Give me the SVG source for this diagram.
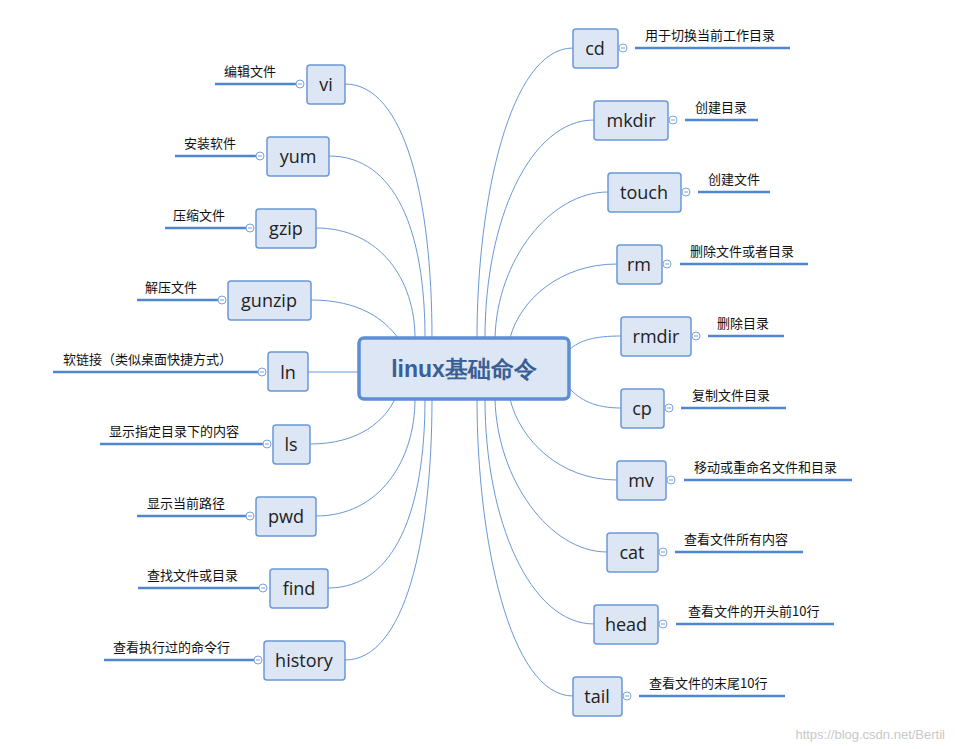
<svg xmlns="http://www.w3.org/2000/svg" width="955" height="749" viewBox="0 0 955 749">
<style>
.n rect{fill:#dce6f4;stroke:#6a98d6;stroke-width:1.5}
.n text{font-family:"Open Sans","Liberation Sans",sans-serif;font-size:18px;fill:#222;text-anchor:middle}
.c path{fill:none;stroke:#6a98d6;stroke-width:1}
.u{stroke:#4f86d0;stroke-width:2.5}
.k{fill:#fff;stroke:#7aa2d8;stroke-width:1}
.m{stroke:#7aa2d8;stroke-width:1}
.n text.l{font-family:"Noto Sans CJK SC","Liberation Sans",sans-serif;font-size:13px;fill:#111;text-anchor:start}
</style>
<rect width="955" height="749" fill="#fff"/>
<g class="c">
<path d="M345,84 C405,84 432,200 432,338"/>
<path d="M329,156 C395,156 425,230 425,338"/>
<path d="M316,228 C380,228 415,280 415,338"/>
<path d="M311,300 C360,300 385,320 398,338"/>
<path d="M308,372 L359,372"/>
<path d="M310,444 C360,444 385,420 395,399"/>
<path d="M316,516 C380,516 415,460 415,399"/>
<path d="M328,588 C395,588 425,510 425,399"/>
<path d="M345,660 C405,660 432,540 432,399"/>
<path d="M573,48 C510,48 477,200 477,338"/>
<path d="M594,120 C530,120 485,220 485,338"/>
<path d="M608,192 C550,192 497,260 495,338"/>
<path d="M617,264 C560,264 520,300 510,338"/>
<path d="M621,336 C595,336 580,340 569,350"/>
<path d="M621,408 C595,408 580,400 569,388"/>
<path d="M617,480 C560,480 520,440 510,399"/>
<path d="M607,552 C550,552 497,480 495,399"/>
<path d="M594,624 C530,624 485,520 485,399"/>
<path d="M573,696 C510,696 477,540 477,399"/>
</g>
<g id="center"><rect x="359" y="338" width="210" height="61" rx="5" fill="#dce6f4" stroke="#5b8fd4" stroke-width="3.5"/><text x="464" y="377" font-family="Liberation Sans,sans-serif" font-size="23" font-weight="bold" fill="#3a5f94" text-anchor="middle">linux基础命令</text></g>
<g id="vi" class="n"><line class="u" x1="215" y1="84" x2="296" y2="84"/><circle class="k" cx="300" cy="84" r="4"/><line class="m" x1="298" y1="84" x2="302" y2="84"/><rect x="307" y="65" width="38" height="39" rx="3"/><text x="326" y="91">vi</text><text class="l" x="224" y="76">编辑文件</text></g>
<g id="yum" class="n"><line class="u" x1="175" y1="156" x2="256" y2="156"/><circle class="k" cx="260" cy="156" r="4"/><line class="m" x1="258" y1="156" x2="262" y2="156"/><rect x="267" y="137" width="62" height="39" rx="3"/><text x="298" y="163">yum</text><text class="l" x="184" y="148">安装软件</text></g>
<g id="gzip" class="n"><line class="u" x1="165" y1="228" x2="246" y2="228"/><circle class="k" cx="250" cy="228" r="4"/><line class="m" x1="248" y1="228" x2="252" y2="228"/><rect x="256" y="209" width="60" height="39" rx="3"/><text x="286" y="235">gzip</text><text class="l" x="173" y="220">压缩文件</text></g>
<g id="gunzip" class="n"><line class="u" x1="137" y1="300" x2="218" y2="300"/><circle class="k" cx="222" cy="300" r="4"/><line class="m" x1="220" y1="300" x2="224" y2="300"/><rect x="228" y="281" width="83" height="39" rx="3"/><text x="269" y="307">gunzip</text><text class="l" x="145" y="292">解压文件</text></g>
<g id="ln" class="n"><line class="u" x1="53" y1="372" x2="258" y2="372"/><circle class="k" cx="262" cy="372" r="4"/><line class="m" x1="260" y1="372" x2="264" y2="372"/><rect x="268" y="352" width="40" height="39" rx="3"/><text x="288" y="379">ln</text><text class="l" x="63" y="364">软链接（类似桌面快捷方式）</text></g>
<g id="ls" class="n"><line class="u" x1="100" y1="444" x2="263" y2="444"/><circle class="k" cx="267" cy="444" r="4"/><line class="m" x1="265" y1="444" x2="269" y2="444"/><rect x="273" y="425" width="37" height="39" rx="3"/><text x="291" y="451">ls</text><text class="l" x="109" y="436">显示指定目录下的内容</text></g>
<g id="pwd" class="n"><line class="u" x1="137" y1="516" x2="246" y2="516"/><circle class="k" cx="250" cy="516" r="4"/><line class="m" x1="248" y1="516" x2="252" y2="516"/><rect x="256" y="497" width="60" height="39" rx="3"/><text x="286" y="523">pwd</text><text class="l" x="147" y="508">显示当前路径</text></g>
<g id="find" class="n"><line class="u" x1="138" y1="588" x2="259" y2="588"/><circle class="k" cx="263" cy="588" r="4"/><line class="m" x1="261" y1="588" x2="265" y2="588"/><rect x="270" y="569" width="58" height="39" rx="3"/><text x="299" y="595">find</text><text class="l" x="147" y="580">查找文件或目录</text></g>
<g id="history" class="n"><line class="u" x1="104" y1="660" x2="254" y2="660"/><circle class="k" cx="258" cy="660" r="4"/><line class="m" x1="256" y1="660" x2="260" y2="660"/><rect x="264" y="641" width="81" height="39" rx="3"/><text x="304" y="667">history</text><text class="l" x="113" y="652">查看执行过的命令行</text></g>
<g id="cd" class="n"><rect x="573" y="29" width="45" height="39" rx="3"/><text x="595" y="55">cd</text><circle class="k" cx="623" cy="48" r="4"/><line class="m" x1="621" y1="48" x2="625" y2="48"/><line class="u" x1="635" y1="48" x2="790" y2="48"/><text class="l" x="645" y="40">用于切换当前工作目录</text></g>
<g id="mkdir" class="n"><rect x="594" y="101" width="74" height="39" rx="3"/><text x="631" y="127">mkdir</text><circle class="k" cx="673" cy="120" r="4"/><line class="m" x1="671" y1="120" x2="675" y2="120"/><line class="u" x1="685" y1="120" x2="758" y2="120"/><text class="l" x="695" y="112">创建目录</text></g>
<g id="touch" class="n"><rect x="608" y="173" width="73" height="39" rx="3"/><text x="644" y="199">touch</text><circle class="k" cx="686" cy="192" r="4"/><line class="m" x1="684" y1="192" x2="688" y2="192"/><line class="u" x1="698" y1="192" x2="770" y2="192"/><text class="l" x="708" y="184">创建文件</text></g>
<g id="rm" class="n"><rect x="617" y="245" width="45" height="39" rx="3"/><text x="639" y="271">rm</text><circle class="k" cx="667" cy="264" r="4"/><line class="m" x1="665" y1="264" x2="669" y2="264"/><line class="u" x1="680" y1="264" x2="808" y2="264"/><text class="l" x="690" y="256">删除文件或者目录</text></g>
<g id="rmdir" class="n"><rect x="621" y="317" width="70" height="39" rx="3"/><text x="656" y="343">rmdir</text><circle class="k" cx="696" cy="336" r="4"/><line class="m" x1="694" y1="336" x2="698" y2="336"/><line class="u" x1="708" y1="336" x2="784" y2="336"/><text class="l" x="717" y="328">删除目录</text></g>
<g id="cp" class="n"><rect x="621" y="389" width="43" height="39" rx="3"/><text x="642" y="415">cp</text><circle class="k" cx="669" cy="408" r="4"/><line class="m" x1="667" y1="408" x2="671" y2="408"/><line class="u" x1="681" y1="408" x2="786" y2="408"/><text class="l" x="692" y="400">复制文件目录</text></g>
<g id="mv" class="n"><rect x="617" y="461" width="49" height="39" rx="3"/><text x="641" y="487">mv</text><circle class="k" cx="671" cy="480" r="4"/><line class="m" x1="669" y1="480" x2="673" y2="480"/><line class="u" x1="684" y1="480" x2="852" y2="480"/><text class="l" x="694" y="472">移动或重命名文件和目录</text></g>
<g id="cat" class="n"><rect x="607" y="533" width="51" height="39" rx="3"/><text x="632" y="559">cat</text><circle class="k" cx="663" cy="552" r="4"/><line class="m" x1="661" y1="552" x2="665" y2="552"/><line class="u" x1="675" y1="552" x2="803" y2="552"/><text class="l" x="684" y="544">查看文件所有内容</text></g>
<g id="head" class="n"><rect x="594" y="605" width="64" height="39" rx="3"/><text x="626" y="631">head</text><circle class="k" cx="663" cy="624" r="4"/><line class="m" x1="661" y1="624" x2="665" y2="624"/><line class="u" x1="676" y1="624" x2="834" y2="624"/><text class="l" x="688" y="616">查看文件的开头前10行</text></g>
<g id="tail" class="n"><rect x="573" y="677" width="49" height="39" rx="3"/><text x="597" y="703">tail</text><circle class="k" cx="627" cy="696" r="4"/><line class="m" x1="625" y1="696" x2="629" y2="696"/><line class="u" x1="639" y1="696" x2="785" y2="696"/><text class="l" x="649" y="688">查看文件的末尾10行</text></g>
<text x="945" y="739" text-anchor="end" font-family="Liberation Sans,sans-serif" font-size="13" fill="#c8c8c8">https://blog.csdn.net/Bertil</text>
</svg>
